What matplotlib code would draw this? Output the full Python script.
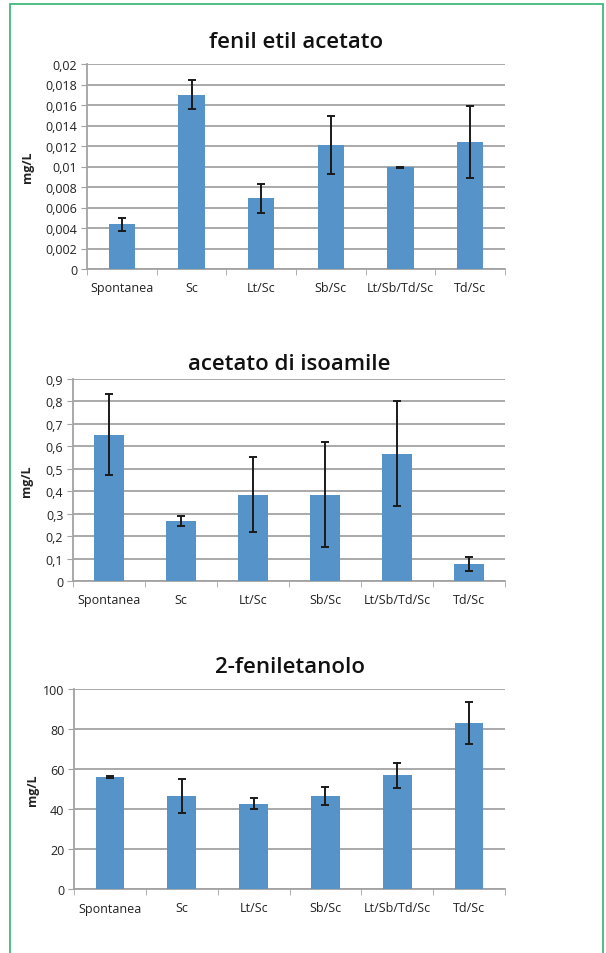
import matplotlib.pyplot as plt
import numpy as np
from matplotlib.patches import Rectangle

plt.rcParams['font.family'] = ['Open Sans', 'DejaVu Sans']

categories = ["Spontanea", "Sc", "Lt/Sc", "Sb/Sc", "Lt/Sb/Td/Sc", "Td/Sc"]

# fenil etil acetato
fea_vals = [0.00436, 0.0170, 0.0069, 0.0121, 0.00995, 0.0124]
fea_err = [0.00064, 0.0014, 0.0014, 0.0028, 0.00005, 0.0035]
fea_ticks = [0, 0.002, 0.004, 0.006, 0.008, 0.01, 0.012, 0.014, 0.016, 0.018, 0.02]
fea_labels = ["0", "0,002", "0,004", "0,006", "0,008", "0,01", "0,012", "0,014",
              "0,016", "0,018", "0,02"]

# acetato di isoamile
ais_vals = [0.651, 0.267, 0.385, 0.385, 0.566, 0.076]
ais_err = [0.18, 0.023, 0.167, 0.233, 0.234, 0.033]
ais_ticks = [0, 0.1, 0.2, 0.3, 0.4, 0.5, 0.6, 0.7, 0.8, 0.9]
ais_labels = ["0", "0,1", "0,2", "0,3", "0,4", "0,5", "0,6", "0,7", "0,8", "0,9"]

# 2-feniletanolo
fen_vals = [56.0, 46.5, 42.7, 46.5, 56.8, 83.0]
fen_err = [0.3, 8.7, 2.8, 4.5, 6.4, 10.7]
fen_ticks = [0, 20, 40, 60, 80, 100]
fen_labels = ["0", "20", "40", "60", "80", "100"]

bar_color = "#5593C9"
grid_color = "#A3A3A3"
text_color = "#222222"

fig = plt.figure(figsize=(6.06, 9.54), dpi=100)

# green frame
fig.patches.append(Rectangle((10 / 606, -0.01), 593 / 606, 1 - 5 / 954 + 0.01,
                             transform=fig.transFigure, fill=False,
                             edgecolor="#3FB97B", linewidth=1.3))


def panel(rect, vals, err, ticks, labels, title, width, title_pad, ylab_x):
    ax = fig.add_axes(rect)
    x = np.arange(len(categories))
    ax.bar(x, vals, width=width, color=bar_color, zorder=3)
    ax.errorbar(x, vals, yerr=err, fmt="none", ecolor="#1a1a1a",
                elinewidth=1.4, capsize=3, capthick=1.4, zorder=4)
    ax.set_xlim(-0.5, len(categories) - 0.5)
    ax.set_ylim(ticks[0], ticks[-1])
    ax.set_yticks(ticks)
    ax.set_yticklabels(labels, fontsize=9, color=text_color)
    ax.set_xticks(x)
    ax.set_xticklabels(categories, fontsize=9, color=text_color)
    ax.set_xticks(np.arange(-0.5, len(categories)), minor=True)
    ax.tick_params(axis="x", which="major", length=0, pad=9)
    ax.tick_params(axis="x", which="minor", length=4, color=grid_color)
    ax.tick_params(axis="y", length=4, color=grid_color, pad=3)
    ax.grid(axis="y", color=grid_color, linewidth=1.3, zorder=0)
    for s in ["top", "right"]:
        ax.spines[s].set_visible(False)
    for s in ["left", "bottom"]:
        ax.spines[s].set_color(grid_color)
        ax.spines[s].set_linewidth(1.3)
    ax.set_title(title, fontsize=16, fontweight="semibold", color="#111111",
                 pad=title_pad)
    ax.set_ylabel("mg/L", fontsize=9, fontweight="bold", color=text_color)
    ax.yaxis.set_label_coords(ylab_x, 0.5)
    return ax


panel([87 / 606, 1 - 270 / 954, 418 / 606, 205 / 954], fea_vals, fea_err,
      fea_ticks, fea_labels, "fenil etil acetato", 0.38, 12, -0.126)
panel([73 / 606, 1 - 582 / 954, 432 / 606, 202 / 954], ais_vals, ais_err,
      ais_ticks, ais_labels, "acetato di isoamile", 0.42, 7, -0.093)
panel([74 / 606, 1 - 890 / 954, 431 / 606, 200 / 954], fen_vals, fen_err,
      fen_ticks, fen_labels, "2-feniletanolo", 0.40, 12, -0.081)

fig.savefig("out.png", dpi=100)
